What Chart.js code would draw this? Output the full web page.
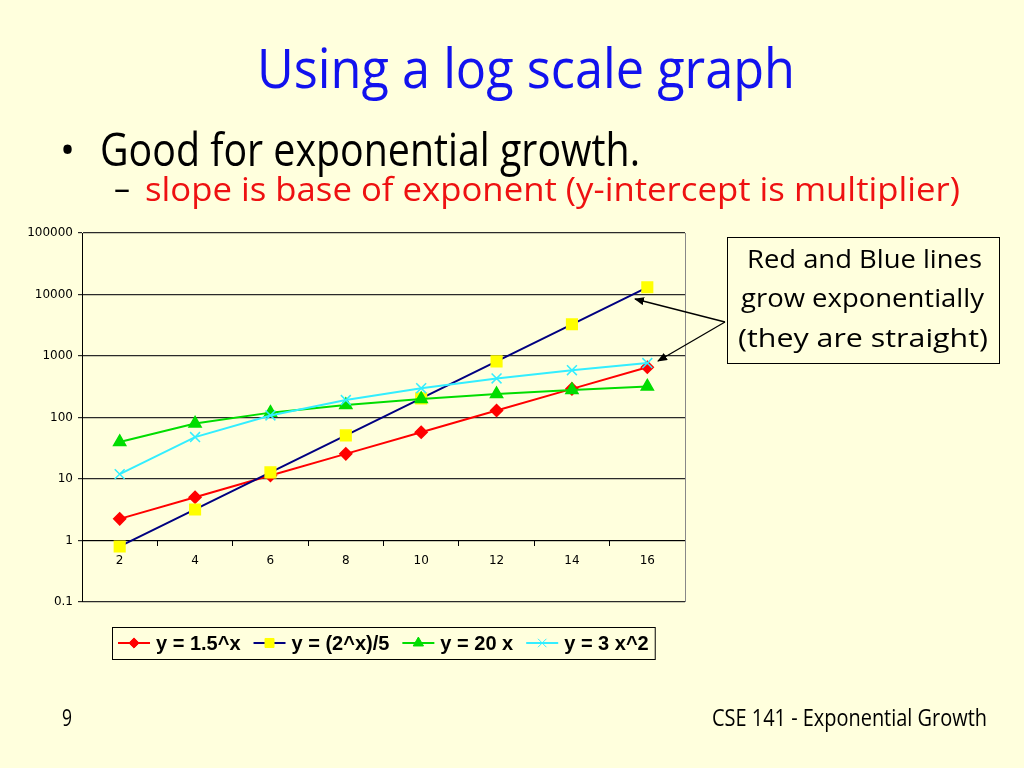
<!DOCTYPE html>
<html>
<head>
<meta charset="utf-8">
<script src="https://cdn.jsdelivr.net/npm/chart.js@4.4.0/dist/chart.umd.min.js"></script>
<style>
  html, body { margin:0; padding:0; background:#FFFFDD; }
  #wrap { position:relative; width:1024px; height:768px; overflow:hidden; background:#FFFFDD; }
  #c { position:absolute; left:0; top:0; }
  #txt { position:absolute; left:0; top:0; }
</style>
</head>
<body>
<div id="wrap">
  <canvas id="c" width="1024" height="768"></canvas>
  <svg id="txt" width="1024" height="768" xmlns="http://www.w3.org/2000/svg">
    <defs>
      <marker id="ah" markerWidth="10" markerHeight="8" refX="9" refY="4" orient="auto" markerUnits="userSpaceOnUse">
        <path d="M0,0 L10,4 L0,8 Z" fill="#000"/>
      </marker>
    </defs>
    <g font-family="'Open Sans', 'Noto Sans', sans-serif">
      <text x="257" y="88" font-size="54" fill="#1212EE" textLength="538" lengthAdjust="spacingAndGlyphs">Using a log scale graph</text>
      <text x="60" y="164" font-size="40" fill="#000">•</text>
      <text x="100" y="166" font-size="45" fill="#000" textLength="540" lengthAdjust="spacingAndGlyphs">Good for exponential growth.</text>
      <text x="114" y="200" font-size="32" fill="#000">–</text>
      <text x="145" y="201" font-size="32" fill="#EE1111" textLength="815" lengthAdjust="spacingAndGlyphs">slope is base of exponent (y-intercept is multiplier)</text>
      <text x="62" y="726" font-size="23" fill="#000" textLength="10" lengthAdjust="spacingAndGlyphs">9</text>
      <text x="712" y="726" font-size="23" fill="#000" textLength="275" lengthAdjust="spacingAndGlyphs">CSE 141 - Exponential Growth</text>
      <rect x="727.5" y="237.5" width="272" height="126" fill="#FFFFDD" stroke="#000" stroke-width="1"/>
      <text x="747" y="268" font-size="26" fill="#000" textLength="235" lengthAdjust="spacingAndGlyphs">Red and Blue lines</text>
      <text x="741" y="307" font-size="26" fill="#000" textLength="243" lengthAdjust="spacingAndGlyphs">grow exponentially</text>
      <text x="738" y="347" font-size="26" fill="#000" textLength="250" lengthAdjust="spacingAndGlyphs">(they are straight)</text>
    </g>
    <line x1="725" y1="322" x2="635" y2="299" stroke="#000" stroke-width="1.3" marker-end="url(#ah)"/>
    <line x1="725" y1="322" x2="658" y2="361" stroke="#000" stroke-width="1.3" marker-end="url(#ah)"/>
  </svg>
</div>
<script>
// ---- data ----
const categories = ['2', '4', '6', '8', '10', '12', '14', '16'];
const seriesLabels = ['y = 1.5^x', 'y = (2^x)/5', 'y = 20 x', 'y = 3 x^2'];
const redValues    = [2.25, 5.06, 11.39, 25.63, 57.67, 129.75, 291.93, 656.84];
const blueValues   = [0.8, 3.2, 12.8, 51.2, 204.8, 819.2, 3276.8, 13107.2];
const greenValues  = [40, 80, 120, 160, 200, 240, 280, 320];
const cyanValues   = [12, 48, 108, 192, 300, 432, 588, 768];
const yTickValues  = [0.1, 1, 10, 100, 1000, 10000, 100000];

const frame = {
  id: 'frame',
  beforeDatasetsDraw(chart) {
    const a = chart.chartArea, ctx = chart.ctx;
    ctx.save();
    ctx.strokeStyle = '#888';
    ctx.lineWidth = 1;
    ctx.beginPath();
    ctx.moveTo(Math.round(a.right) + 0.5, a.top);
    ctx.lineTo(Math.round(a.right) + 0.5, a.bottom);
    ctx.stroke();
    ctx.restore();
  }
};

const legendBox = {
  id: 'legendBox',
  afterDraw(chart) {
    const ctx = chart.ctx, a = chart.chartArea;
    ctx.save();
    ctx.font = 'bold 20px "Liberation Sans", Arial, sans-serif';
    const sw = 32, gap = 6, itemGap = 13, pad = 6;
    const dss = chart.data.datasets;
    const widths = dss.map(d => ctx.measureText(d.label).width);
    let total = pad * 2 - itemGap;
    widths.forEach(w => total += sw + gap + w + itemGap);
    const cx = (a.left + a.right) / 2;
    const top = a.bottom + 25, h = 32;
    let x0 = Math.round(cx - total / 2);
    ctx.fillStyle = '#FFFFDD';
    ctx.fillRect(x0, top, total, h);
    ctx.strokeStyle = '#000';
    ctx.lineWidth = 1;
    ctx.strokeRect(x0 + 0.5, top + 0.5, total, h);
    let x = x0 + pad;
    const cy = top + h / 2;
    dss.forEach((d, i) => {
      ctx.strokeStyle = d.borderColor;
      ctx.lineWidth = 2;
      ctx.beginPath();
      ctx.moveTo(x, cy); ctx.lineTo(x + sw, cy); ctx.stroke();
      ctx.fillStyle = d.pointBackgroundColor;
      ctx.strokeStyle = d.pointBorderColor;
      ctx.lineWidth = 1;
      Chart.helpers.drawPoint(ctx, {pointStyle: d.pointStyle, radius: d.pointRadius * 0.85, borderWidth: 1, rotation: 0}, x + sw / 2, cy);
      ctx.fillStyle = '#000';
      ctx.textBaseline = 'middle';
      ctx.textAlign = 'left';
      ctx.fillText(d.label, x + sw + gap, cy + 1);
      x += sw + gap + widths[i] + itemGap;
    });
    ctx.restore();
  }
};

function ds(label, data, line, fill, style, r, order) {
  return {
    label, data, borderColor: line, borderWidth: 2,
    pointBackgroundColor: fill, pointBorderColor: fill,
    pointStyle: style, pointRadius: r, pointBorderWidth: 1.5,
    fill: false, tension: 0, order
  };
}

new Chart(document.getElementById('c'), {
  type: 'line',
  data: {
    labels: categories,
    datasets: [
      ds(seriesLabels[0], redValues,   '#FF0000', '#FF0000', 'rectRot', 6, 4),
      ds(seriesLabels[1], blueValues,  '#000080', '#FFFF00', 'rect', 7.5, 3),
      ds(seriesLabels[2], greenValues, '#00DD00', '#00DD00', 'triangle', 7, 2),
      ds(seriesLabels[3], cyanValues,  '#33EEFF', '#33EEFF', 'crossRot', 7, 1)
    ]
  },
  options: {
    responsive: false,
    animation: false,
    events: [],
    layout: { padding: { left: 0, right: 339, top: 233, bottom: 166 } },
    plugins: { legend: { display: false }, tooltip: { enabled: false } },
    scales: {
      y: {
        type: 'logarithmic',
        min: 0.1, max: 100000,
        afterBuildTicks: s => { s.ticks = yTickValues.map(v => ({ value: v })); },
        afterFit: s => { s.width = 82; },
        ticks: {
          callback: v => String(v),
          color: '#000',
          font: { family: '"DejaVu Sans", sans-serif', size: 12 },
          padding: 5
        },
        grid: { color: '#2a2a2a', lineWidth: 1.2, tickLength: 4, drawTicks: true },
        border: { color: '#000', width: 1 }
      },
      x: {
        type: 'category',
        offset: true,
        position: { y: 1 },
        grid: { display: true, drawOnChartArea: false, offset: true, tickLength: 5, color: '#000' },
        border: { color: '#000', width: 1 },
        ticks: {
          color: '#000',
          font: { family: '"DejaVu Sans", sans-serif', size: 12 },
          padding: 8,
          maxRotation: 0
        }
      }
    }
  },
  plugins: [frame, legendBox]
});
</script>
</body>
</html>
